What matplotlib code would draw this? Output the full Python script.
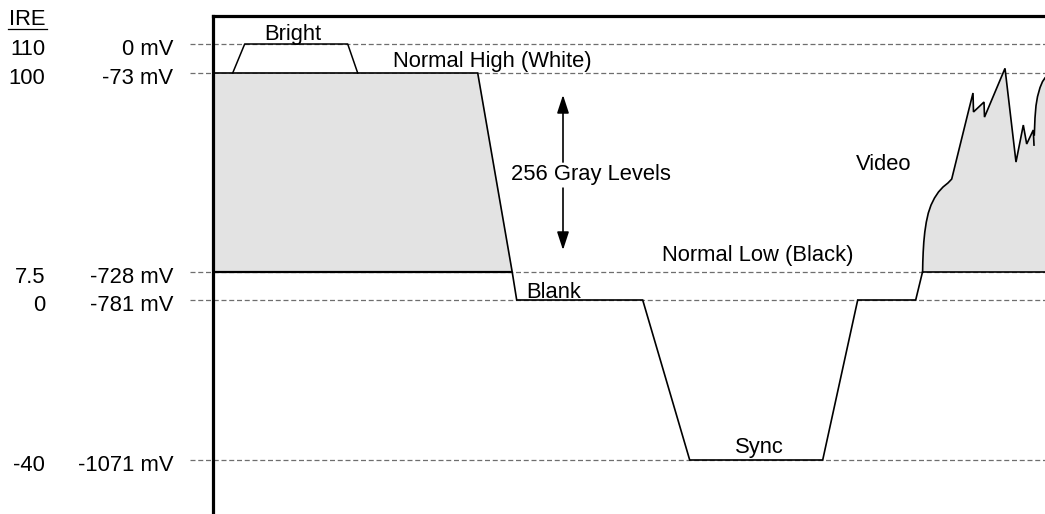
import numpy as np
import matplotlib
matplotlib.use("Agg")
import matplotlib.pyplot as plt
from matplotlib.lines import Line2D
from matplotlib.transforms import offset_copy

plt.rcParams["font.family"] = ["Liberation Sans", "DejaVu Sans"]
plt.rcParams["font.size"] = 15.8

# ---- signal levels -------------------------------------------------------
level_ire = [110, 100, 7.5, 0, -40]
level_ire_text = ["110", "100", "7.5", "0", "-40"]
level_mv_text = ["0 mV", "-73 mV", "-728 mV", "-781 mV", "-1071 mV"]

# composite line (time in arbitrary units, amplitude in IRE)
line_t = [0, 265, 299.5, 304, 430, 477, 610, 645, 703, 709.8, 832.3]
line_ire = [100, 100, 7.5, 0, 0, -40, -40, 0, 0, 7.5, 7.5]

# "Bright" excursion above white
bright_t = [20, 32, 135, 145]
bright_ire = [100, 110, 110, 100]

# active video burst on the right
video1_t = [709.9, 710.1, 710.5, 711.1, 712.1, 713.6, 715.6, 718.3, 721.8,
            725.8, 730.3, 735.3, 739.0, 755.3, 760.3, 760.8, 771.3, 771.8,
            792.3, 803.3, 810.6, 814.0, 820.6, 821.3]
video1_ire = [7.5, 12.1, 16.8, 21.4, 26.1, 30.7, 34.9, 38.6, 41.9,
              44.7, 47.0, 48.9, 50.7, 81.4, 90.7, 81.9, 86.5, 79.5,
              101.6, 58.6, 75.8, 67.0, 73.5, 66.5]
video2_t = [821.6, 822.3, 823.3, 824.8, 827.3, 829.8, 832.3]
video2_ire = [71.2, 79.2, 84.8, 89.0, 93.2, 96.0, 97.7]

# ---- schematic (not-to-scale) vertical layout -----------------------------
# drawing height (px from bottom) of each level, sorted by IRE
_ire_sorted = np.array([-40, 0, 7.5, 100, 110])
_h_sorted = np.array([54.0, 214.0, 242.0, 441.0, 470.0])


def _piecewise(v, xp, fp):
    v = np.asarray(v, dtype=float)
    out = np.interp(v, xp, fp)
    lo = fp[0] + (v - xp[0]) * (fp[1] - fp[0]) / (xp[1] - xp[0])
    hi = fp[-1] + (v - xp[-1]) * (fp[-1] - fp[-2]) / (xp[-1] - xp[-2])
    return np.where(v < xp[0], lo, np.where(v > xp[-1], hi, out))


def fwd(v):
    return _piecewise(v, _ire_sorted, _h_sorted)


def inv(h):
    return _piecewise(h, _h_sorted, _ire_sorted)


W, H = 1045, 514
fig = plt.figure(figsize=(W / 100, H / 100), dpi=100)
ax_left, ax_top = 212.7, 15.7
ax = fig.add_axes([ax_left / W, 0, (W - ax_left) / W, (H - ax_top) / H])
ax.set_yscale("function", functions=(fwd, inv))
ax.set_xlim(0, W - ax_left)
ax.set_ylim(float(inv(0.0)), float(inv(H - ax_top)))
ax.set_xticks([])
ax.set_yticks([])
ax.minorticks_off()
for side in ("right", "bottom"):
    ax.spines[side].set_visible(False)
for side in ("left", "top"):
    ax.spines[side].set_linewidth(2.3)
    ax.spines[side].set_zorder(5)

gray = "#e3e3e3"

# dashed reference lines, starting left of the frame
hl = ax.hlines(level_ire, -22.7, W - ax_left, colors="#6e6e6e",
               linewidth=0.9, linestyles=(0, (4, 2.2)), zorder=1)
hl.set_clip_on(False)

# level labels
lab_tr = offset_copy(ax.transData, fig=fig, x=0, y=-11, units="dots")
for ire, t_ire, t_mv in zip(level_ire, level_ire_text, level_mv_text):
    ax.text(-167.5, ire, t_ire, ha="right", va="baseline",
            transform=lab_tr, clip_on=False)
    ax.text(-39.7, ire, t_mv, ha="right", va="baseline",
            transform=lab_tr, clip_on=False)

fig.text(27 / W, 1 - 25 / H, "IRE", ha="center", va="baseline")
fig.add_artist(Line2D([8.3 / W, 47.3 / W], [1 - 28.5 / H] * 2,
                      transform=fig.transFigure, color="black", lw=0.9))

# gray fill under the white-level part
ax.fill_between(line_t[:3], [7.5] * 3, line_ire[:3], color=gray,
                linewidth=0, zorder=2)
# gray fill under the video
vx = video1_t + video2_t + [video2_t[-1]]
vy = video1_ire + video2_ire + [7.5]
ax.fill(vx, vy, color=gray, linewidth=0, zorder=2)

# black level line under the fill
ax.plot([line_t[0], line_t[2]], [7.5, 7.5], color="black", lw=1.6,
        zorder=3, solid_capstyle="butt")

ax.plot(line_t, line_ire, color="black", lw=1.2, zorder=4,
        solid_joinstyle="miter")
ax.plot(bright_t, bright_ire, color="black", lw=1.1, zorder=4)
ax.plot(video1_t, video1_ire, color="black", lw=1.2, zorder=4,
        solid_joinstyle="miter")
ax.plot(video2_t, video2_ire, color="black", lw=1.2, zorder=4)

# gray-level span arrows
arrow = dict(arrowstyle="-|>,head_length=1.1,head_width=0.36",
             color="black", lw=1.2, mutation_scale=10, shrinkA=0, shrinkB=0)
ax.annotate("", xy=(350.3, 89.8), xytext=(350.3, 58.6), arrowprops=arrow)
ax.annotate("", xy=(350.3, 17.7), xytext=(350.3, 46.5), arrowprops=arrow)

# annotations
ax.text(80.3, 111.55, "Bright", ha="center", va="baseline")
ax.text(279.3, 102.1, "Normal High (White)", ha="center", va="baseline")
ax.text(378.5, 50.3, "256 Gray Levels", ha="center", va="baseline")
ax.text(671.3, 54.7, "Video", ha="center", va="baseline")
ax.text(545.3, 12.8, "Normal Low (Black)", ha="center", va="baseline")
ax.text(341.3, 0.55, "Blank", ha="center", va="baseline")
ax.text(546.3, -38.25, "Sync", ha="center", va="baseline")

fig.savefig("out.png", dpi=100)
